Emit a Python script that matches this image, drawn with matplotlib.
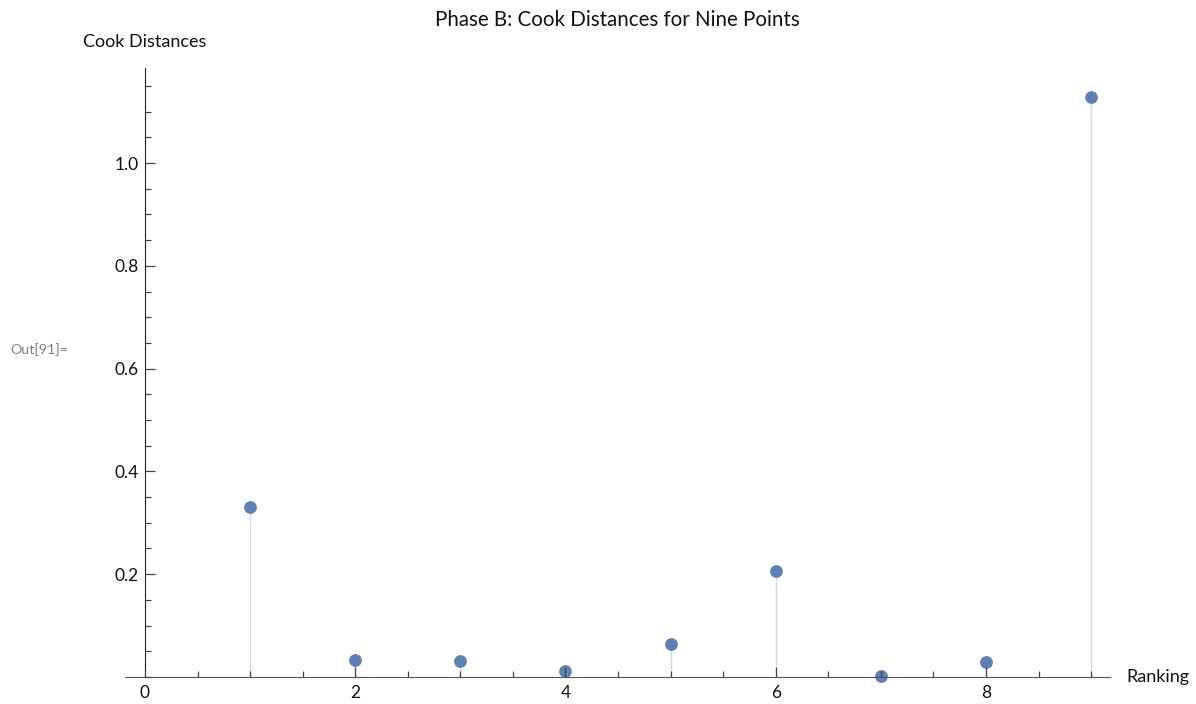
import numpy as np
import matplotlib
matplotlib.use('Agg')
import matplotlib.pyplot as plt
from matplotlib.ticker import MultipleLocator

plt.rcParams['font.family'] = ['Lato', 'DejaVu Sans']

# Cook distances, ordered by ranking
ranking = [1, 2, 3, 4, 5, 6, 7, 8, 9]
cook = [0.330, 0.0325, 0.0315, 0.011, 0.064, 0.206, 0.0015, 0.030, 1.128]

blue = '#5E81B5'

fig = plt.figure(figsize=(11.96, 7.04), dpi=100)
ax = fig.add_axes([0.1045, 0.0384, 0.8236, 0.8651])

# stems down to the axis, then the points
ax.vlines(ranking, 0, cook, colors=blue, alpha=0.3, linewidth=1.0, zorder=1)
ax.plot(ranking, cook, 'o', color=blue, markersize=9.2, markeredgewidth=0,
        clip_on=False, zorder=2)

ax.set_xlim(-0.19, 9.18)
ax.set_ylim(0, 1.185)

# axes cross at the origin
for s in ['top', 'right']:
    ax.spines[s].set_visible(False)
ax.spines['left'].set_position(('data', 0))
ax.spines['left'].set_color('#222222')
ax.spines['bottom'].set_color('#555555')
ax.set_axisbelow(False)

ax.xaxis.set_major_locator(MultipleLocator(2))
ax.xaxis.set_minor_locator(MultipleLocator(0.5))
ax.yaxis.set_major_locator(MultipleLocator(0.2))
ax.yaxis.set_minor_locator(MultipleLocator(0.05))
ax.set_yticks([0.2, 0.4, 0.6, 0.8, 1.0])
ax.set_yticklabels(['0.2', '0.4', '0.6', '0.8', '1.0'])

ax.tick_params(axis='both', which='major', direction='in', length=7.3,
               width=0.9, color='#444444', labelsize=12.5, labelcolor='#111111')
ax.tick_params(axis='both', which='minor', direction='in', length=4.6,
               width=0.9, color='#444444')
ax.tick_params(axis='x', which='major', pad=6)
ax.tick_params(axis='y', which='major', pad=4.5)

ax.set_title('Phase B: Cook Distances for Nine Points', fontsize=14.8,
             color='#111111', pad=30.5)
ax.text(0, 1.235, 'Cook Distances', ha='center', va='center', fontsize=13,
        color='#111111', clip_on=False)
ax.text(9.34, 0.0, 'Ranking', ha='left', va='center', fontsize=13,
        color='#111111', clip_on=False)

fig.text(10 / 1196, 1 - 350 / 704, 'Out[91]=', ha='left', va='center',
         fontsize=10.3, color='#808080')

fig.savefig('out.png', dpi=100)
